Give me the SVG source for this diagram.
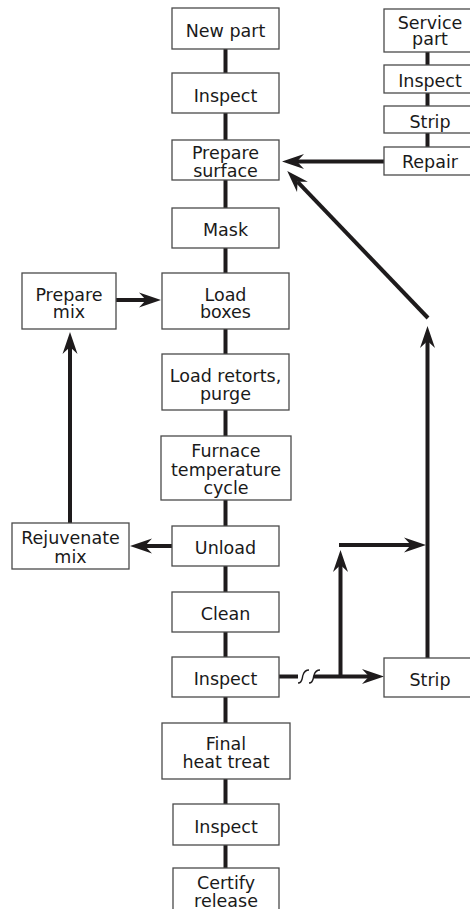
<svg xmlns="http://www.w3.org/2000/svg" width="470" height="909" viewBox="0 0 470 909">
<style>
.box{fill:#fff;stroke:#4a4a4a;stroke-width:1.3}
.t{font-family:"DejaVu Sans","Liberation Sans",sans-serif;font-size:17.5px;fill:#1a1a1a;text-anchor:middle}
.c{fill:none;stroke:#1e1b1c;stroke-width:4}
.a{fill:none;stroke:#1e1b1c;stroke-width:4;marker-end:url(#ah)}
.sq{fill:none;stroke:#1e1b1c;stroke-width:1.4}
</style>
<defs>
<marker id="ah" viewBox="0 0 22 16" refX="7" refY="8" markerWidth="22" markerHeight="16" markerUnits="userSpaceOnUse" orient="auto">
<path d="M22,8 L0,0.5 L7,8 L0,15.5 Z" fill="#1e1b1c"/>
</marker>
</defs>
<rect width="470" height="909" fill="#fff"/>
<g id="connectors">
<line class="c" x1="225.5" y1="49" x2="225.5" y2="73"/>
<line class="c" x1="225.5" y1="113" x2="225.5" y2="140"/>
<line class="c" x1="225.5" y1="180" x2="225.5" y2="208"/>
<line class="c" x1="225.5" y1="248" x2="225.5" y2="273"/>
<line class="c" x1="225.5" y1="329" x2="225.5" y2="354"/>
<line class="c" x1="225.5" y1="410" x2="225.5" y2="436"/>
<line class="c" x1="225.5" y1="500" x2="225.5" y2="526"/>
<line class="c" x1="225.5" y1="566" x2="225.5" y2="592"/>
<line class="c" x1="225.5" y1="632" x2="225.5" y2="657"/>
<line class="c" x1="225.5" y1="697" x2="225.5" y2="723"/>
<line class="c" x1="225.5" y1="779" x2="225.5" y2="804"/>
<line class="c" x1="225.5" y1="845" x2="225.5" y2="868"/>
<line class="c" x1="427.5" y1="52" x2="427.5" y2="65"/>
<line class="c" x1="427.5" y1="93" x2="427.5" y2="106"/>
<line class="c" x1="427.5" y1="133" x2="427.5" y2="147"/>
<line class="a" x1="384" y1="161.5" x2="297" y2="161.5"/>
<line class="a" x1="428" y1="318" x2="297.6" y2="181.8"/>
<line class="a" x1="427.5" y1="658" x2="427.5" y2="341"/>
<line class="a" x1="339" y1="545" x2="411" y2="545"/>
<line class="a" x1="340.5" y1="677" x2="340.5" y2="565"/>
<line class="c" x1="279" y1="676.5" x2="298" y2="676.5"/>
<line class="a" x1="314" y1="676.5" x2="369" y2="676.5"/>
<path class="sq" d="M298,683 C303,683 302,677 303,675 C304,672 305,670 309,670"/>
<path class="sq" d="M309,683 C314,683 313,677 314,675 C315,672 316,670 320,670"/>
<line class="a" x1="172" y1="546" x2="145" y2="546"/>
<line class="a" x1="70" y1="523" x2="70" y2="347"/>
<line class="a" x1="116" y1="300" x2="146" y2="300"/>
</g>
<g id="new-part"><rect class="box" x="172" y="8" width="107" height="41"/><text class="t" x="225.5" y="37">New part</text></g>
<g id="inspect-1"><rect class="box" x="172" y="73" width="107" height="40"/><text class="t" x="225.5" y="101.5">Inspect</text></g>
<g id="prepare-surface"><rect class="box" x="172" y="140" width="107" height="40"/><text class="t" x="225.5"><tspan x="225.5" y="159">Prepare</tspan><tspan x="225.5" y="177">surface</tspan></text></g>
<g id="mask"><rect class="box" x="172" y="208" width="107" height="40"/><text class="t" x="225.5" y="236">Mask</text></g>
<g id="load-boxes"><rect class="box" x="162" y="273" width="127" height="56"/><text class="t" x="225.5"><tspan x="225.5" y="301">Load</tspan><tspan x="225.5" y="318">boxes</tspan></text></g>
<g id="prepare-mix"><rect class="box" x="22" y="273" width="94" height="56"/><text class="t" x="69"><tspan x="69" y="301">Prepare</tspan><tspan x="69" y="318">mix</tspan></text></g>
<g id="load-retorts"><rect class="box" x="162" y="354" width="127" height="56"/><text class="t" x="225.5"><tspan x="225.5" y="382">Load retorts,</tspan><tspan x="225.5" y="400">purge</tspan></text></g>
<g id="furnace"><rect class="box" x="161" y="436" width="130" height="64"/><text class="t" x="226"><tspan x="226" y="457">Furnace</tspan><tspan x="226" y="476">temperature</tspan><tspan x="226" y="494">cycle</tspan></text></g>
<g id="rejuvenate-mix"><rect class="box" x="12" y="523" width="117" height="46"/><text class="t" x="70.5"><tspan x="70.5" y="544">Rejuvenate</tspan><tspan x="70.5" y="563">mix</tspan></text></g>
<g id="unload"><rect class="box" x="172" y="526" width="107" height="40"/><text class="t" x="225.5" y="554">Unload</text></g>
<g id="clean"><rect class="box" x="172" y="592" width="107" height="40"/><text class="t" x="225.5" y="620">Clean</text></g>
<g id="inspect-2"><rect class="box" x="172" y="657" width="107" height="40"/><text class="t" x="225.5" y="685">Inspect</text></g>
<g id="strip-2"><rect class="box" x="384" y="658" width="92" height="39"/><text class="t" x="430" y="686">Strip</text></g>
<g id="final-heat-treat"><rect class="box" x="162" y="723" width="128" height="56"/><text class="t" x="226"><tspan x="226" y="750">Final</tspan><tspan x="226" y="768">heat treat</tspan></text></g>
<g id="inspect-3"><rect class="box" x="173" y="804" width="106" height="41"/><text class="t" x="226" y="833">Inspect</text></g>
<g id="certify-release"><rect class="box" x="173" y="868" width="106" height="50"/><text class="t" x="226"><tspan x="226" y="889">Certify</tspan><tspan x="226" y="907">release</tspan></text></g>
<g id="service-part"><rect class="box" x="384" y="9" width="92" height="43"/><text class="t" x="430"><tspan x="430" y="29">Service</tspan><tspan x="430" y="45">part</tspan></text></g>
<g id="inspect-s"><rect class="box" x="384" y="65" width="92" height="28"/><text class="t" x="430" y="87">Inspect</text></g>
<g id="strip-s"><rect class="box" x="384" y="106" width="92" height="27"/><text class="t" x="430" y="128">Strip</text></g>
<g id="repair"><rect class="box" x="384" y="147" width="92" height="28"/><text class="t" x="430" y="168">Repair</text></g>
</svg>
